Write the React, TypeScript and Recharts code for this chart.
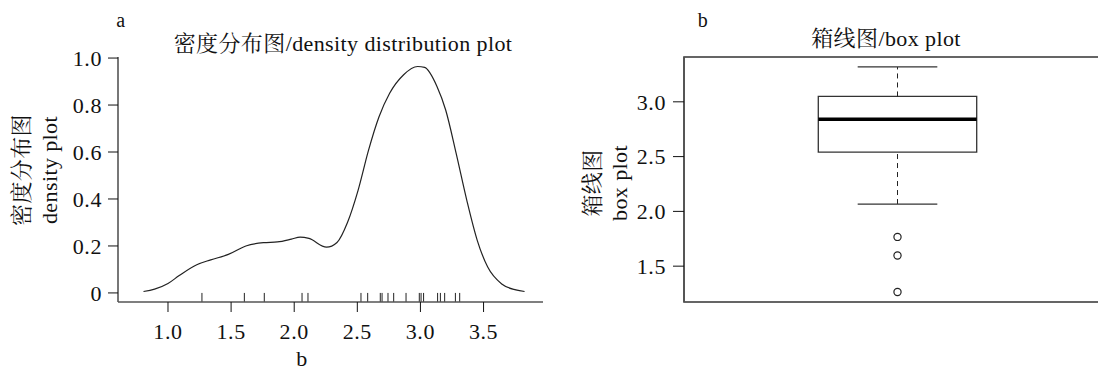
import { ComposedChart, Line, ReferenceArea, ReferenceLine, Scatter, XAxis, YAxis } from 'recharts';

// density curve
const densityX = [
  0.806, 0.894, 1.0, 1.089, 1.228, 1.339, 1.478, 1.617, 1.756, 1.867, 1.978, 2.047, 2.117, 2.256, 2.339, 2.422,
  2.506, 2.589, 2.672, 2.756, 2.867, 2.978, 3.033, 3.131, 3.2, 3.283, 3.367, 3.45, 3.533, 3.644, 3.756, 3.825,
];
const densityY = [
  0.006, 0.016, 0.04, 0.074, 0.12, 0.141, 0.164, 0.2, 0.214, 0.217, 0.229, 0.238, 0.232, 0.195, 0.215, 0.3,
  0.437, 0.608, 0.75, 0.85, 0.929, 0.964, 0.96, 0.879, 0.779, 0.594, 0.395, 0.224, 0.11, 0.038, 0.013, 0.006,
];

// rug marks under the density curve
const rugValues = [
  1.269, 1.605, 1.763, 2.062, 2.109, 2.529, 2.582, 2.682, 2.696, 2.743, 2.788, 2.886, 2.991, 3.005, 3.025, 3.136,
  3.158, 3.192, 3.277, 3.311,
];

const densityXTicks = [1.0, 1.5, 2.0, 2.5, 3.0, 3.5];
const densityYTicks = [0, 0.2, 0.4, 0.6, 0.8, 1.0];

// box plot: lower whisker, Q1, median, Q3, upper whisker
const boxStats = [2.067, 2.54, 2.84, 3.049, 3.318];
const boxOutliers = [1.767, 1.597, 1.264];
const boxYTicks = [1.5, 2.0, 2.5, 3.0];

const densityRows = densityX.map((x, i) => ({ x, y: densityY[i] }));
const outlierRows = boxOutliers.map((v) => ({ x: 1, y: v }));

const densityXDomain: [number, number] = [0.604, 3.971];
const densityYDomain: [number, number] = [-0.0386, 1.0045];
const boxYDomain: [number, number] = [1.173, 3.409];

const serif = "'Liberation Serif', 'Noto Serif CJK SC', 'Noto Sans CJK SC', serif";
const ink = '#111';
const tickFont = { fontSize: 22, fill: ink, fontFamily: serif, letterSpacing: 0.6 };

function fmtTick(v: number) {
  return v === 0 ? '0' : v.toFixed(1);
}

function Label({ x, y, size = 22, rotate = false, children }: { x: number; y: number; size?: number; rotate?: boolean; children: string }) {
  return (
    <div
      style={{
        position: 'absolute',
        left: x,
        top: y,
        transform: `translate(-50%, -50%)${rotate ? ' rotate(-90deg)' : ''}`,
        fontFamily: serif,
        fontSize: size,
        color: ink,
        whiteSpace: 'nowrap',
        lineHeight: 1,
        letterSpacing: 0.4,
      }}
    >
      {children}
    </div>
  );
}

function OpenDot(props: any) {
  const { cx, cy } = props;
  return <circle cx={cx} cy={cy} r={3.6} fill="#fff" stroke="#222" strokeWidth={1.2} />;
}

export default function App() {
  const [lo, q1, med, q3, hi] = boxStats;
  const boxL = 0.629;
  const boxR = 1.371;
  const capL = 0.8135;
  const capR = 1.1865;

  return (
    <div style={{ position: 'relative', width: 1098, height: 370, background: '#fff', overflow: 'hidden' }}>
      <style>{'body{margin:0}'}</style>

      {/* panel a: density */}
      <div style={{ position: 'absolute', left: 0, top: 0 }}>
        <ComposedChart width={550} height={370} data={densityRows} margin={{ top: 57, right: 7, bottom: 0, left: 0 }}>
          <XAxis
            dataKey="x"
            type="number"
            domain={densityXDomain}
            ticks={densityXTicks}
            tickFormatter={fmtTick}
            allowDataOverflow
            height={68}
            tickSize={10}
            tickMargin={11}
            tick={tickFont}
            axisLine={{ stroke: '#555', strokeWidth: 1.6 }}
            tickLine={{ stroke: ink }}
          />
          <YAxis
            type="number"
            domain={densityYDomain}
            ticks={densityYTicks}
            tickFormatter={fmtTick}
            allowDataOverflow
            width={118}
            tickSize={10}
            tickMargin={6}
            tick={tickFont}
            axisLine={{ stroke: '#555', strokeWidth: 1.6 }}
            tickLine={{ stroke: ink }}
          />
          {rugValues.map((v, i) => (
            <ReferenceLine
              key={i}
              segment={[
                { x: v, y: densityYDomain[0] },
                { x: v, y: 0 },
              ]}
              stroke="#222"
              strokeWidth={1}
              ifOverflow="visible"
            />
          ))}
          <Line
            dataKey="y"
            type="monotone"
            stroke="#222"
            strokeWidth={1.2}
            dot={false}
            activeDot={false}
            isAnimationActive={false}
          />
        </ComposedChart>
        <Label x={121} y={20} size={20}>a</Label>
        <Label x={343} y={44}>密度分布图/density distribution plot</Label>
        <Label x={302} y={359}>b</Label>
        <Label x={22} y={170} rotate>密度分布图</Label>
        <Label x={50} y={170} rotate>density plot</Label>
      </div>

      {/* panel b: box plot */}
      <div style={{ position: 'absolute', left: 550, top: 0, width: 548, height: 370, overflow: 'hidden' }}>
        <ComposedChart width={561} height={370} data={outlierRows} margin={{ top: 57, right: 0, bottom: 68, left: 0 }}>
          <XAxis dataKey="x" type="number" domain={[0, 2]} hide />
          <YAxis
            type="number"
            domain={boxYDomain}
            ticks={boxYTicks}
            tickFormatter={fmtTick}
            allowDataOverflow
            width={134}
            tickSize={11}
            tickMargin={7}
            tick={tickFont}
            axisLine={{ stroke: '#555', strokeWidth: 1.6 }}
            tickLine={{ stroke: ink }}
          />
          <ReferenceArea
            x1={0}
            x2={2}
            y1={boxYDomain[0]}
            y2={boxYDomain[1]}
            fill="none"
            fillOpacity={0}
            stroke="#333"
            strokeWidth={1.6}
            ifOverflow="visible"
          />
          <ReferenceLine segment={[{ x: 1, y: q3 }, { x: 1, y: hi }]} stroke="#222" strokeDasharray="5 4" />
          <ReferenceLine segment={[{ x: 1, y: lo }, { x: 1, y: q1 }]} stroke="#222" strokeDasharray="5 4" />
          <ReferenceLine segment={[{ x: capL, y: hi }, { x: capR, y: hi }]} stroke="#333" strokeWidth={1.3} />
          <ReferenceLine segment={[{ x: capL, y: lo }, { x: capR, y: lo }]} stroke="#333" strokeWidth={1.3} />
          <ReferenceArea
            x1={boxL}
            x2={boxR}
            y1={q1}
            y2={q3}
            fill="#fff"
            fillOpacity={1}
            stroke="#333"
            strokeWidth={1.3}
            ifOverflow="visible"
          />
          <ReferenceLine segment={[{ x: boxL, y: med }, { x: boxR, y: med }]} stroke="#000" strokeWidth={3.5} />
          <Scatter dataKey="y" shape={<OpenDot />} isAnimationActive={false} />
        </ComposedChart>
        <Label x={703 - 550} y={20} size={20}>b</Label>
        <Label x={886 - 550} y={39}>箱线图/box plot</Label>
        <Label x={593 - 550} y={183} rotate>箱线图</Label>
        <Label x={620 - 550} y={183} rotate>box plot</Label>
      </div>
    </div>
  );
}
